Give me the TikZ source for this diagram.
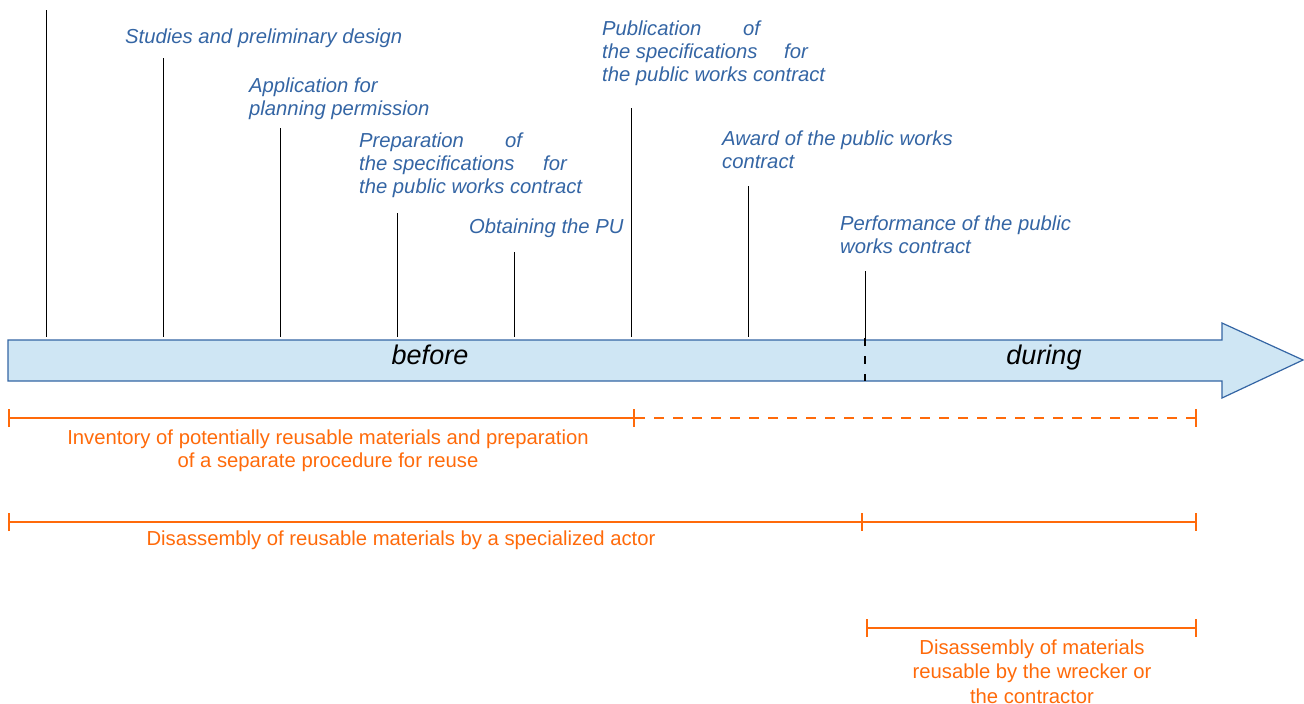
\documentclass[tikz,border=0pt]{standalone}
\usepackage{fontspec}
\setmainfont{Liberation Sans}
\usetikzlibrary{arrows.meta}
\definecolor{lblue}{HTML}{3465A4}
\definecolor{afill}{HTML}{CFE6F4}
\definecolor{orng}{HTML}{FF6A0A}
\begin{document}
\begin{tikzpicture}[x=1pt,y=-1pt,
  milestone/.style={draw=black, line width=0.9pt},
  mlabel/.style={anchor=base west, inner sep=0pt, align=left, text=lblue,
    font=\fontsize{20.26}{23.2}\selectfont\itshape},
  phase/.style={anchor=base, inner sep=0pt, text=black,
    font=\fontsize{27}{30}\selectfont\itshape},
  bar/.style={draw=orng, line width=2.4pt},
  barboth/.style={bar, {Bar[width=18pt]}-{Bar[width=18pt]}},
  barright/.style={bar, -{Bar[width=18pt]}},
  dashbar/.style={bar, dash pattern=on 10pt off 9pt, -{Bar[width=18pt]}},
  blabel/.style={anchor=base, inner sep=0pt, align=center, text=orng,
    font=\fontsize{20.26}{23.2}\selectfont},
  ]
\useasboundingbox (0,0) rectangle (1304,704);

% main arrow
\draw[fill=afill, draw=lblue, line width=1.2pt]
  (8,340) -- (1222,340) -- (1222,323) -- (1303,360) -- (1222,398) -- (1222,381) -- (8,381) -- cycle;
\node[phase] (before) at (430,364) {before};
\node[phase] (during) at (1044,364) {during};

% milestones
\foreach \n/\x/\t in {1/46/10, 2/163/58, 3/280/128, 4/397/213, 5/514/252, 6/631/108, 7/748/186, 8/865/271}{
  \coordinate (m\n-top) at (\x,\t);
  \coordinate (m\n-bot) at (\x,337);
}
\foreach \n in {1,...,7}{ \draw[milestone] (m\n-top) -- (m\n-bot); }
\coordinate (m8-bot) at (865,340);
\coordinate (m8-dash) at (865,338);
\coordinate (m8-end) at (865,381);
\draw[milestone] (m8-top) -- (m8-bot);
\draw[draw=black, line width=2.2pt, dash pattern=on 8pt off 10pt] (m8-dash) -- (m8-end);

% milestone labels (base anchor = baseline of last line)
\node[mlabel] (l2) at (125,43) {Studies and preliminary design};
\node[mlabel] (l3) at (249,115.2) {Application for\\planning permission};
\node[mlabel] (l4) at (359,193.4) {\makebox[146pt][l]{Preparation}of\\\makebox[184pt][l]{the specifications}for\\the public works contract};
\node[mlabel] (l5) at (469,233) {Obtaining the PU};
\node[mlabel] (l6) at (602,81.4) {\makebox[141pt][l]{Publication}of\\\makebox[182pt][l]{the specifications}for\\the public works contract};
\node[mlabel] (l7) at (722,168.2) {Award of the public works\\contract};
\node[mlabel] (l8) at (840,253.2) {Performance of the public\\works contract};

% bar 1
\coordinate (b1s) at (8,418);
\coordinate (b1m) at (635,418);
\coordinate (b1e) at (1197,418);
\draw[barboth] (b1s) -- (b1m);
\draw[dashbar] (b1m) -- (b1e);
\node[blabel] (t1) at (328,467.2) {Inventory of potentially reusable materials and preparation\\of a separate procedure for reuse};

% bar 2
\coordinate (b2s) at (8,522);
\coordinate (b2m) at (863,522);
\coordinate (b2e) at (1197,522);
\draw[barboth] (b2s) -- (b2m);
\draw[barright] (b2m) -- (b2e);
\node[blabel] (t2) at (401,545) {Disassembly of reusable materials by a specialized actor};

% bar 3
\coordinate (b3s) at (866,628);
\coordinate (b3e) at (1197,628);
\draw[barboth] (b3s) -- (b3e);
\node[blabel, font=\fontsize{20.26}{24.5}\selectfont] (t3) at (1032,703) {Disassembly of materials\\reusable by the wrecker or\\the contractor};
\end{tikzpicture}
\end{document}
